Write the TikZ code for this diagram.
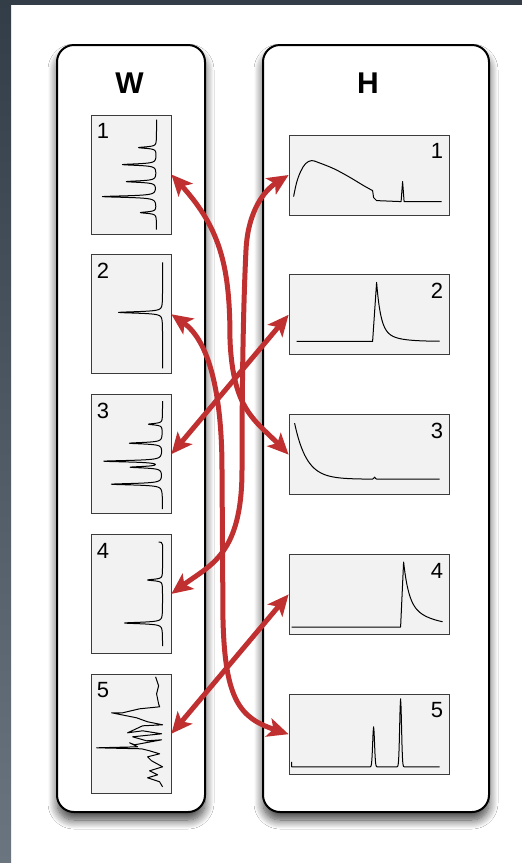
\documentclass[tikz,border=0pt]{standalone}
\usepackage{fontspec}
\setmainfont{Liberation Sans}
\usetikzlibrary{arrows.meta,positioning,shadows.blur}
\definecolor{nmfRed}{RGB}{192,48,48}
\definecolor{nmfSlate}{RGB}{50,61,72}
\definecolor{nmfSlateLow}{RGB}{106,117,128}
\definecolor{nmfPlotFill}{RGB}{242,242,242}
\definecolor{nmfPlotEdge}{RGB}{60,60,60}

\begin{document}
\begin{tikzpicture}[x=1pt, y=-1pt,
    panel/.style={rectangle, rounded corners=17pt, draw=black, line width=2pt,
      fill=white, minimum height=767pt, inner sep=0pt,
      blur shadow={shadow xshift=0pt, shadow yshift=-8pt,
        shadow blur radius=9pt, shadow blur steps=14, shadow opacity=75}},
    paneltitle/.style={font=\fontsize{30}{36}\selectfont\bfseries},
    wplot/.style={rectangle, draw=nmfPlotEdge, line width=0.8pt,
      fill=nmfPlotFill, minimum width=80pt, minimum height=119pt, inner sep=0pt},
    hplot/.style={wplot, minimum width=160pt, minimum height=80pt},
    numlbl/.style={font=\fontsize{22}{26}\selectfont, inner sep=0pt},
    spec/.style={line width=1pt, line join=round},
    link/.style={{Stealth[length=21pt,width=19pt,inset=5pt]}-{Stealth[length=21pt,width=19pt,inset=5pt]},
      line width=5pt, draw=nmfRed},
  ]
  % ---- frame ----
  \fill[white] (0,0) rectangle (522,863);
  \shade[top color=nmfSlate, bottom color=nmfSlateLow] (0,0) rectangle (11,863);
  \fill[nmfSlate] (0,0) rectangle (522,5);
  \useasboundingbox (0,0) rectangle (522,863);

  % ---- panels ----
  \node[panel, minimum width=148pt] (wpanel) at (131,428.5) {};
  \node[panel, minimum width=226pt] (hpanel) at (376,428.5) {};
  \node[paneltitle] (wtitle) at (129.5,83) {W};
  \node[paneltitle] (htitle) at (368,83) {H};

  % ---- W column ----
  \node[wplot] (w1) at (131,174.5) {};
  \node[wplot, below=20pt of w1] (w2) {};
  \node[wplot, below=20pt of w2] (w3) {};
  \node[wplot, below=20pt of w3] (w4) {};
  \node[wplot, below=20pt of w4] (w5) {};

  % ---- H column ----
  \node[hplot] (h1) at (369,175) {};
  \node[hplot, below=59pt of h1] (h2) {};
  \node[hplot, below=59pt of h2] (h3) {};
  \node[hplot, below=59pt of h3] (h4) {};
  \node[hplot, below=59pt of h4] (h5) {};

  \foreach \i in {1,...,5} {
    \node[numlbl, anchor=base west] (wn\i) at ([xshift=6pt, yshift=-24pt]w\i.north west) {\i};
    \node[numlbl, anchor=base east] (hn\i) at ([xshift=-6pt, yshift=-24pt]h\i.north east) {\i};
  }

  % ---- spectra, W ----
  \begin{scope}[shift={(w1.north west)}]
    \draw[spec] plot[domain=5:115, samples=441, variable=\t]
      ({66-18/(1+(\t-33)*(\t-33)/0.81)-34/(1+(\t-50)*(\t-50)/0.81)-30/(1+(\t-67)*(\t-67)/0.81)-54/(1+(\t-82)*(\t-82)/0.81)-16/(1+(\t-98)*(\t-98)/0.81)}, \t);
  \end{scope}
  \begin{scope}[shift={(w2.north west)}]
    \draw[spec] plot[domain=8:114, samples=425, variable=\t]
      ({72-44/(1+(\t-58)*(\t-58)/0.81)}, \t);
  \end{scope}
  \begin{scope}[shift={(w3.north west)}]
    \draw[spec] plot[domain=7:115, samples=433, variable=\t]
      ({72-14/(1+(\t-30)*(\t-30)/0.81)-33/(1+(\t-49)*(\t-49)/0.81)-58/(1+(\t-67)*(\t-67)/0.81)-31/(1+(\t-73)*(\t-73)/0.81)-51/(1+(\t-90)*(\t-90)/0.81)}, \t);
  \end{scope}
  \begin{scope}[shift={(w4.north west)}]
    \draw[spec] (68,8) .. controls (71,8) .. (72,11) -- plot[domain=11:112, samples=405, variable=\t]
      ({72-15/(1+(\t-46)*(\t-46)/0.81)-38/(1+(\t-89)*(\t-89)/0.81)}, \t);
  \end{scope}
  \begin{scope}[shift={(w5.north west)}]
    \draw[spec] (65,3) -- (68,12) -- (66,20) -- (68,30) -- (69,33) -- (49,35) -- (32,39)
      -- (21,39) -- (31,41) -- (46,44) -- (57,48) -- (72,51) -- (52,52) -- (37,59)
      -- (52,57) -- (71,60) -- (42,63) -- (56,67) -- (71,66) -- (44,71) -- (39,69)
      -- (47,73) -- (6,74) -- (51,75) -- (59,77) -- (69,80) -- (57,83) -- (61,87)
      -- (72,93) -- (59,97) -- (67,101) -- (57,104) -- (69,108) -- (72,113);
  \end{scope}

  % ---- spectra, H ----
  \begin{scope}[shift={(h1.north west)}]
    \draw[spec] plot[smooth, tension=0.6] coordinates {(5,62) (8,48) (12,37) (17,29) (23,26)
      (30,28) (45,34) (60,42) (75,51) (84,56)} -- (85,63) -- (88,66) -- (112.5,67)
      -- (114,47) -- (115.5,67) -- (153,67);
  \end{scope}
  \begin{scope}[shift={(h2.north west)}]
    \draw[spec] (8,67) -- (84,67) -- (88,8) -- plot[domain=88:151, samples=127, variable=\t]
      (\t, {67-45*exp(-(\t-88)/4)-14*exp(-(\t-88)/14)});
  \end{scope}
  \begin{scope}[shift={(h3.north west)}]
    \draw[spec] plot[domain=6:151, samples=146, variable=\t]
      (\t, {65-56*exp(-(\t-6)/12)-2*exp(-(\t-86)*(\t-86))});
  \end{scope}
  \begin{scope}[shift={(h4.north west)}]
    \draw[spec] (3,73) -- (112,73) -- (115,8) -- plot[domain=115:154, samples=79, variable=\t]
      (\t, {73-40*exp(-(\t-115)/5)-25*exp(-(\t-115)/25)});
  \end{scope}
  \begin{scope}[shift={(h5.north west)}]
    \draw[spec] (3,68) -- plot[domain=3:151, samples=297, variable=\t]
      (\t, {73-40*exp(-(\t-85)*(\t-85)/1.69)-68*exp(-(\t-112)*(\t-112)/1.69)});
  \end{scope}

  % ---- links ----
  \draw[link] (w1.east) .. controls (222,230) and (230,270) .. (230,340)
    .. controls (233,410) and (255,420) .. (h3.west);
  \draw[link] (w2.east) .. controls (208,340) and (222,390) .. (222,470) -- (223,620)
    .. controls (225,700) and (240,718) .. (h5.west);
  \draw[link] (w3.east) -- (h2.west);
  \draw[link] (w4.east) .. controls (210,565) and (242,555) .. (242,470)
    .. controls (242,360) and (244,290) .. (246,250)
    .. controls (248,210) and (265,190) .. (h1.west);
  \draw[link] (w5.east) -- (h4.west);
\end{tikzpicture}
\end{document}
